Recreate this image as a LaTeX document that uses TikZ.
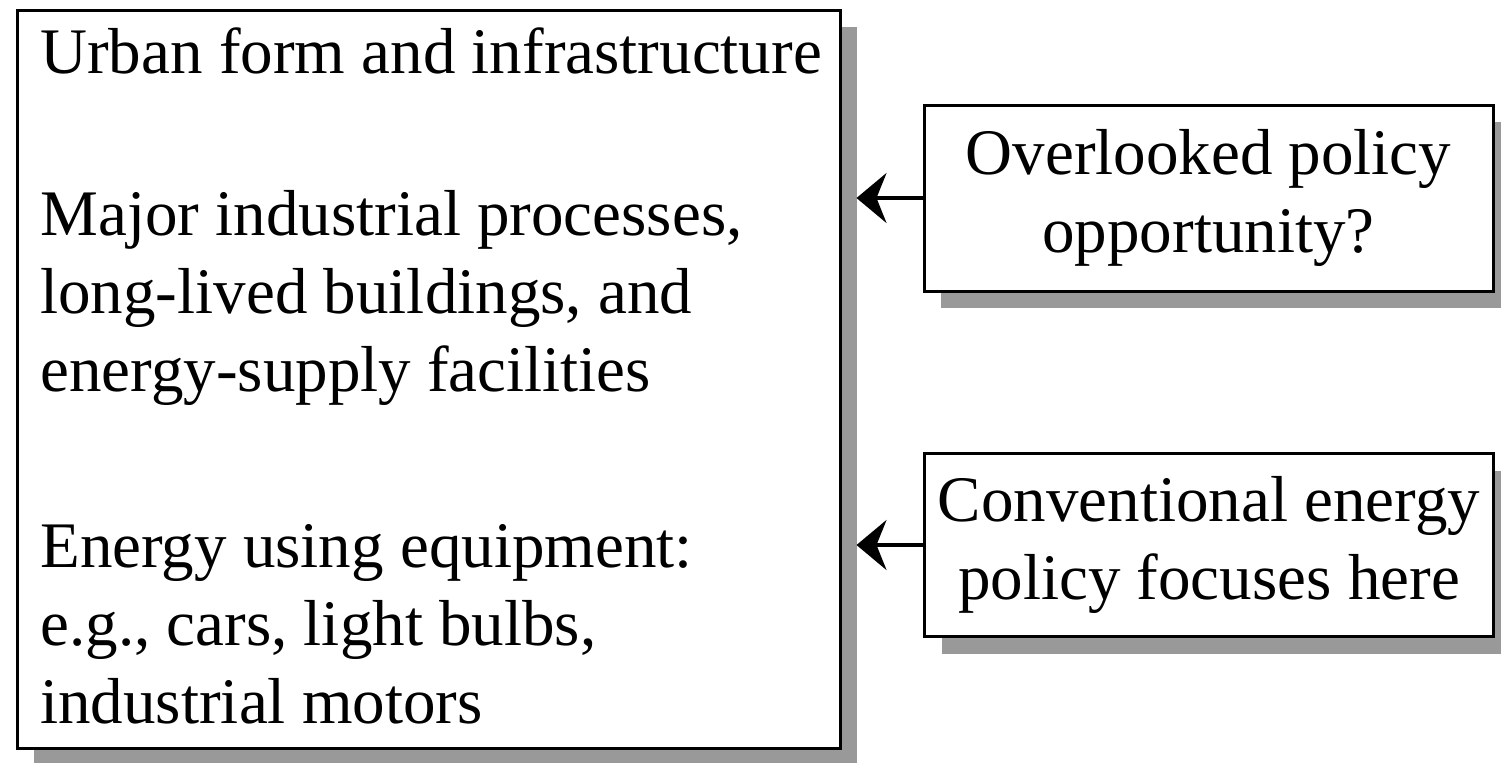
\documentclass[tikz,border=0pt]{standalone}
\usepackage{fontspec}
\setmainfont{Liberation Serif}
\usetikzlibrary{arrows.meta,shadows}
\begin{document}
\begin{tikzpicture}[x=.5pt,y=-.5pt,
    box/.style={draw,line width=1.5pt,fill=white,inner sep=0pt,
        drop shadow={shadow xshift=8.5pt,shadow yshift=-8.5pt,fill=black!40,opacity=1}},
    txt/.style={anchor=base west,align=left,inner sep=0pt,font=\fontsize{32.5}{39}\selectfont},
    ctxt/.style={align=center,font=\fontsize{32.5}{39}\selectfont},
    arr/.style={-{Stealth[length=15pt,width=25pt,inset=5pt]},line width=1.6pt,shorten >=7.5pt}]
    \useasboundingbox (0,0) rectangle (1501,762);
    % left box with its three groups (base = last line)
    \node[box,minimum width=411.5pt,minimum height=369pt] (urban) at (428.5,379) {};
    \node[txt] (infra) at (40,73) {Urban form and infrastructure};
    \node[txt] (major) at (40,391) {Major industrial processes,\\long-lived buildings, and\\energy-supply facilities};
    \node[txt] (equip) at (40,723) {Energy using equipment:\\e.g., cars, light bulbs,\\industrial motors};
    % right boxes
    \node[box,ctxt,minimum width=284.5pt,minimum height=93pt] (overlooked) at (1208.5,198) {Overlooked policy\\opportunity?};
    \node[box,ctxt,minimum width=284.5pt,minimum height=91.5pt] (conventional) at (1209,545) {Conventional energy\\policy focuses here};
    \draw[arr] (overlooked.west) -- (overlooked.west -| urban.east);
    \draw[arr] (conventional.west) -- (conventional.west -| urban.east);
\end{tikzpicture}
\end{document}
